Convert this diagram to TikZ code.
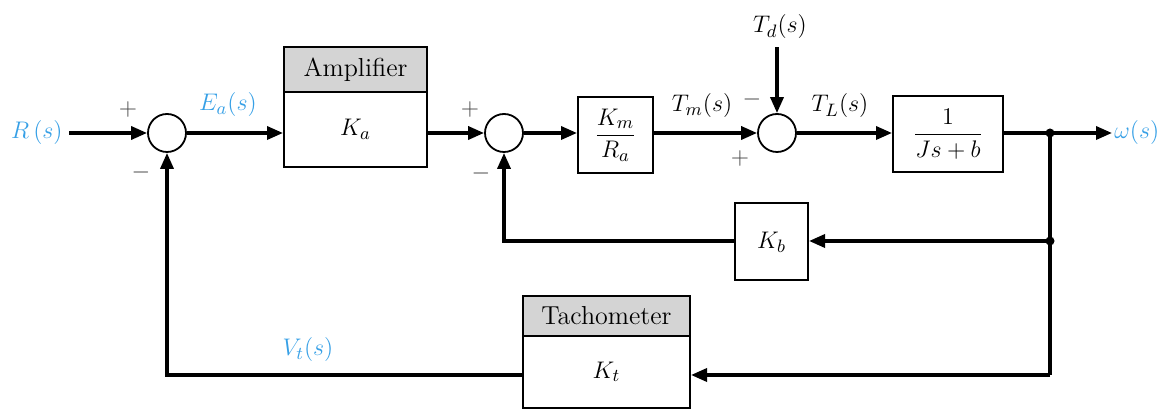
\documentclass[tikz,border=0pt]{standalone}
\usepackage{amsmath}
\usetikzlibrary{arrows.meta,calc}
\definecolor{lblue}{RGB}{55,160,230}
\definecolor{hdrgray}{RGB}{212,212,212}
\definecolor{signgray}{RGB}{70,70,70}
\tikzset{
  sig/.style={line width=1.7pt},
  arr/.style={sig,-{Triangle[length=8pt,width=6.5pt]}},
  blk/.style 2 args={draw,line width=1pt,minimum width=#1,minimum height=#2,inner sep=0pt},
  hdr/.style 2 args={blk={#1}{#2},fill=hdrgray},
  sumnode/.style={circle,draw,line width=0.9pt,minimum size=19pt,inner sep=0pt},
  lbl/.style={inner sep=1pt},
  blbl/.style={lbl,text=lblue},
  sgn/.style={inner sep=0pt,text=signgray},
  dotm/.style={circle,fill,inner sep=0pt,minimum size=4.5pt}
}
\begin{document}
\begin{tikzpicture}[x=0.5pt,y=-0.5pt,font=\fontsize{13}{15}\selectfont]
\useasboundingbox (0,0) rectangle (1172,410);

% inputs / outputs
\node[blbl,anchor=east] (R) at (65,133) {$R\,(s)$};
\node[lbl] (Td) at (780,27) {$T_d(s)$};

% summing junctions
\node[sumnode] (s1) at (167,133) {};
\node[sumnode] (s2) at (504,133) {};
\node[sumnode] (s3) at (777,133) {};

% blocks
\node[hdr={71.5pt}{22.5pt}] (amph) at (355.5,69.5) {Amplifier};
\node[blk={71.5pt}{37.5pt}] (ampb) at (355.5,129.5) {$K_a$};
\node[blk={37.5pt}{38pt}] (kr) at (615.5,135) {$\dfrac{K_m}{R_a}$};
\node[blk={55pt}{38pt}] (plant) at (948,134) {$\dfrac{1}{Js+b}$};
\node[blk={36.5pt}{38.5pt}] (kb) at (771.5,242) {$K_b$};
\node[hdr={83.5pt}{20pt}] (tachh) at (606.5,316) {Tachometer};
\node[blk={83.5pt}{36pt}] (tb) at (606.5,372) {$K_t$};

% branch points
\coordinate (br) at (1050,133);
\coordinate (b1) at (1050,241);
\coordinate (b2) at (1050,375);
\node[blbl,anchor=west] (w) at (1112,133) {$\omega(s)$};

% signal labels
\node[blbl] (Ea) at (228,105) {$E_a(s)$};
\node[lbl] (Tm) at (702,106) {$T_m(s)$};
\node[lbl] (TL) at (840,106) {$T_L(s)$};
\node[blbl] (Vt) at (308,350) {$V_t(s)$};

% signs
\node[sgn] (p1) at (128,110) {$+$};
\node[sgn] (m1) at (141,173) {$-$};
\node[sgn] (p2) at (470,110) {$+$};
\node[sgn] (m2) at (481,174) {$-$};
\node[sgn] (m3) at (752,100) {$-$};
\node[sgn] (p3) at (740,159) {$+$};

% forward path
\draw[arr] ([xshift=2pt]R.east) -- (s1.west);
\draw[arr] (s1.east) -- (ampb.west |- s1);
\draw[arr] (ampb.east |- s2) -- (s2.west);
\draw[arr] (s2.east) -- (kr.west |- s2);
\draw[arr] (kr.east |- s3) -- (s3.west);
\draw[arr] ([yshift=-3pt]Td.south -| s3) -- (s3.north);
\draw[arr] (s3.east) -- (plant.west |- s3);
\draw[sig] (plant.east |- br) -- (br);
\draw[arr] (br) -- (w.west);

% feedback paths
\draw[sig] (br) -- (b2);
\draw[arr] (b1) -- (kb.east |- b1);
\draw[arr] (kb.west |- b1) -- (b1 -| s2) -- (s2.south);
\draw[arr] (b2) -- (tb.east |- b2);
\draw[arr] (tb.west |- b2) -- (b2 -| s1) -- (s1.south);

\node[dotm] (d1) at (br) {};
\node[dotm] (d2) at (b1) {};
\end{tikzpicture}
\end{document}
